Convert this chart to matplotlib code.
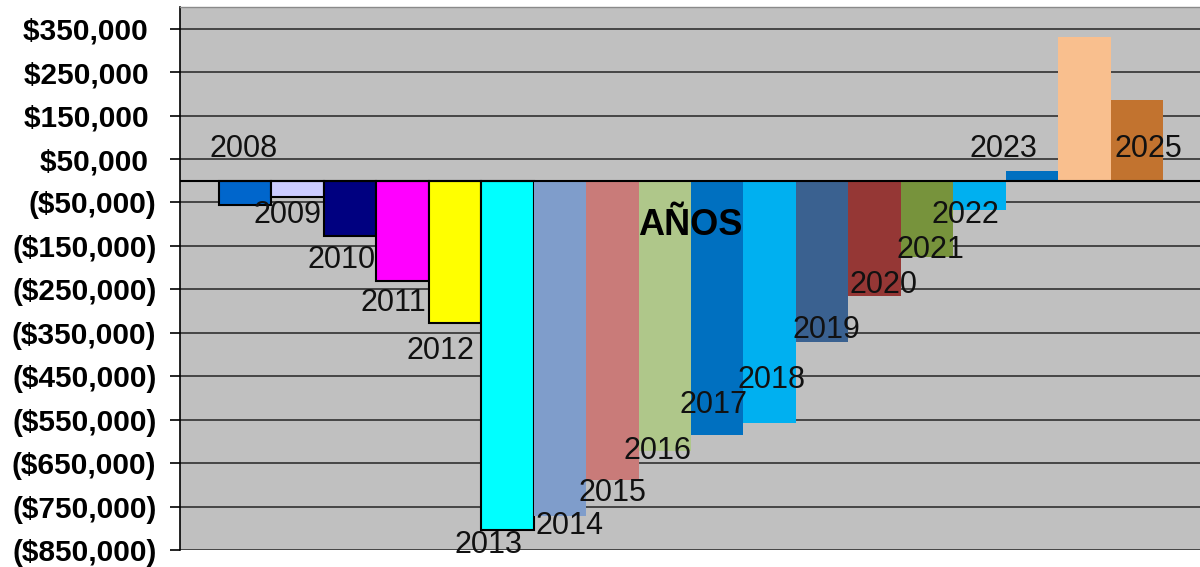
import matplotlib
matplotlib.use("Agg")
import matplotlib.pyplot as plt
from matplotlib.ticker import FuncFormatter

# ---- data ----
years = ["2008", "2009", "2010", "2011", "2012", "2013", "2014", "2015", "2016",
         "2017", "2018", "2019", "2020", "2021", "2022", "2023", "2024", "2025"]
values = [-55000, -37000, -127000, -231000, -328000, -805000, -771000, -690000,
          -623000, -586000, -557000, -372000, -265000, -176000, -67000, 23000,
          330000, 185000]
category_label = "AÑOS"
ytick_values = [350000, 250000, 150000, 50000, -50000, -150000, -250000, -350000,
                -450000, -550000, -650000, -750000, -850000]
show_label = [True] * 16 + [False, True]

# ---- styles ----
colors = ["#0066CC", "#CCCCFF", "#000080", "#FF00FF", "#FFFF00", "#00FFFF",
          "#7F9DCB", "#C97B79", "#AFC78A", "#0070C0", "#00B0F0", "#3A6190",
          "#953735", "#77933C", "#00B0F0", "#0070C0", "#F9BF8E", "#C2732F"]
edges = ["black"] * 6 + ["none"] * 12
# label offsets in pixels (dx, dy) relative to bar centre / bar end
label_offsets = [(-2, 47.5), (-10, -26.5), (-9, -32.5), (-9, -29.5), (-15, -35.5),
                 (-19, -22.5), (10, -18.5), (0, -20.5), (-7, -7.5), (-4, 22.5),
                 (2, 34.5), (4.5, 4.5), (9, 2.5), (3.5, -0.5), (-14, -13.5),
                 (-28, 13.5), (0, 0), (11.5, -56.5)]

plt.rcParams["font.family"] = ["Liberation Sans", "DejaVu Sans"]

fig = plt.figure(figsize=(12, 5.67), dpi=100)
ax = fig.add_axes([0.15, 0.030, 0.8517, 0.9577])
ax.set_facecolor("#C0C0C0")

x = list(range(len(values)))
ax.bar(x, values, width=1.0, color=colors, edgecolor=edges, linewidth=1.5, zorder=2)

ax.set_xlim(-1.244, 18.244)
ax.set_ylim(-850000, 400000)
ax.set_yticks(ytick_values)


def money(v, pos):
    if v < 0:
        return "(${:,.0f})".format(-v)
    return "${:,.0f} ".format(v)


ax.yaxis.set_major_formatter(FuncFormatter(money))
ax.tick_params(axis="y", direction="out", length=7.5, width=1.2, color="black",
               pad=9.5, labelsize=21.5)
for lab in ax.get_yticklabels():
    lab.set_fontweight("bold")
ax.set_xticks([])

ax.yaxis.grid(True, color="#303030", linewidth=1.2, zorder=1)
ax.set_axisbelow(True)
ax.axhline(0, color="black", linewidth=1.5, zorder=3)

for side in ["right", "bottom"]:
    ax.spines[side].set_visible(False)
ax.spines["left"].set_color("black")
ax.spines["left"].set_linewidth(1.2)
ax.spines["top"].set_color("#8a8a8a")
ax.spines["top"].set_linewidth(1.0)

for i, (yr, v) in enumerate(zip(years, values)):
    if not show_label[i]:
        continue
    dx, dy = label_offsets[i]
    ax.annotate(yr, xy=(i, v), xytext=(dx, dy), textcoords="offset pixels",
                ha="center", va="baseline", fontsize=22, color="#111111",
                zorder=5, annotation_clip=False)

ax.annotate(category_label, xy=((len(values) - 1) / 2, 0), xytext=(-1, -54),
            textcoords="offset pixels", ha="center", va="baseline",
            fontsize=26, fontweight="bold", color="black", zorder=5)

fig.savefig("out.png", dpi=100)
